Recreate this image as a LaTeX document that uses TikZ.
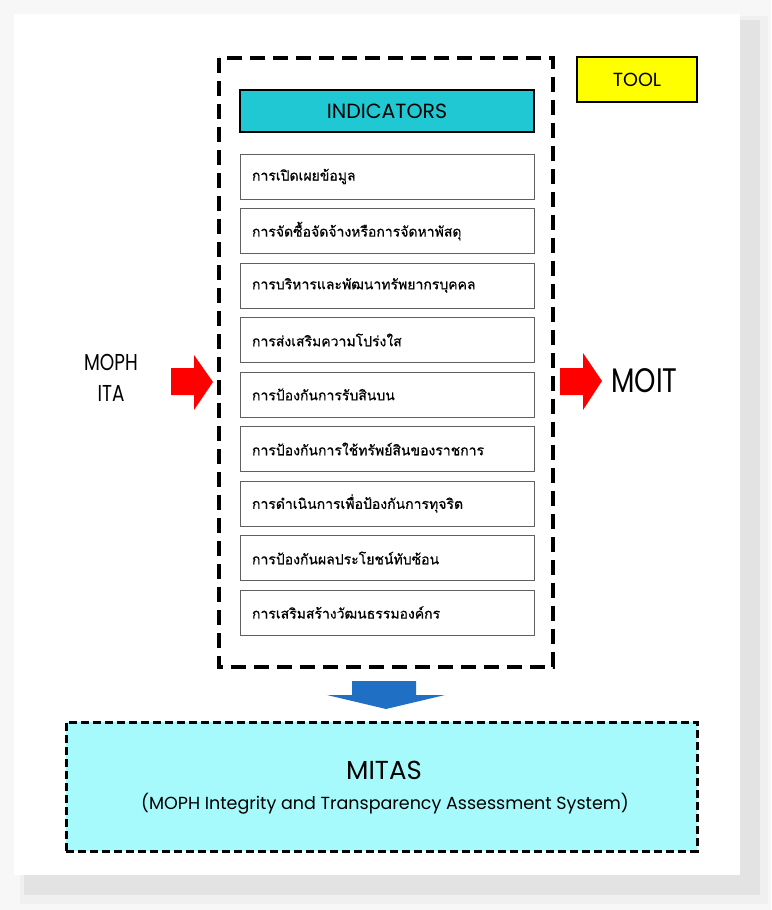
\documentclass[tikz,border=0pt]{standalone}
\usepackage{fontspec}
\setmainfont{Poppins}
\newfontfamily\narrowfont[FakeStretch=0.8]{Poppins}
\newfontfamily\thaifont[Script=Thai,FakeBold=0.6]{Loma}
\definecolor{headcyan}{HTML}{1FC8D3}
\definecolor{mitascyan}{HTML}{A6FAFC}
\definecolor{toolyellow}{HTML}{FFFF00}
\definecolor{arrowred}{HTML}{FF0000}
\definecolor{arrowblue}{HTML}{1F70C4}
\tikzset{
	item/.style={draw=gray!75!black, line width=0.9pt, text width=270pt, inner xsep=12pt,
		minimum height=45pt, align=left, font=\thaifont\fontsize{14}{16}\selectfont},
	headbox/.style={draw, line width=1.6pt, minimum width=294pt, minimum height=42pt}
}
\begin{document}
	\begin{tikzpicture}[x=1pt,y=-1pt]
			\useasboundingbox (0,0) rectangle (771,910);
			% page and its shadow
			\fill[gray!6] (0,0) rectangle (771,910);
			\fill[gray!12] (20,16) rectangle (768,904);
			\fill[gray!22] (24,20) rectangle (760,895);
			\fill[white] (14,14) rectangle (740,875);
			% tool box with the indicators
			\draw[line width=3.5pt, dash pattern=on 15pt off 8pt] (219,58) rectangle (553,667);
			\node[headbox, fill=headcyan, font=\fontsize{20.5}{22}\selectfont] (ind) at (387,111) {INDICATORS};
			\foreach \t [count=\i] in {การเปิดเผยข้อมูล, การจัดซื้อจัดจ้างหรือการจัดหาพัสดุ,
				การบริหารและพัฒนาทรัพยากรบุคคล, การส่งเสริมความโปร่งใส, การป้องกันการรับสินบน,
				การป้องกันการใช้ทรัพย์สินของราชการ, การดำเนินการเพื่อป้องกันการทุจริต,
				การป้องกันผลประโยชน์ทับซ้อน, การเสริมสร้างวัฒนธรรมองค์กร}
				\node[item] (item\i) at (387,{176.5+54.5*(\i-1)}) {\t};
			\node[draw, line width=1.6pt, fill=toolyellow, minimum width=120pt, minimum height=45pt,
				font=\fontsize{19}{21}\selectfont] (tool) at (637,79.5) {TOOL};
			% input and output
			\node[font=\narrowfont\fontsize{23}{25}\selectfont, align=center] (moph) at (111,378) {MOPH\\[6pt]ITA};
			\fill[arrowred] (171,368) -- (194,368) -- (194,355) -- (213,382) -- (194,410) -- (194,395) -- (171,395) -- cycle;
			\fill[arrowred] (560,368) -- (583,368) -- (583,353) -- (602,381) -- (583,410) -- (583,395) -- (560,395) -- cycle;
			\node[font=\narrowfont\fontsize{34}{36}\selectfont, anchor=west, inner sep=0pt] (moit) at (611,381) {MOIT};
			% system
			\fill[arrowblue] (352,681) -- (416,681) -- (416,695) -- (445,695) -- (386,709) -- (327,695) -- (352,695) -- cycle;
			\node[draw, line width=3pt, dash pattern=on 8pt off 4pt, fill=mitascyan, minimum width=631pt,
				minimum height=129pt] (mitas) at (381.5,786.5) {};
			\node[font=\fontsize{26}{28}\selectfont] (mitastitle) at (384,770) {MITAS};
			\node[font=\fontsize{17.5}{19}\selectfont] (mitasfull) at (385,804)
				{(MOPH Integrity and Transparency Assessment System)};
		\end{tikzpicture}
\end{document}
